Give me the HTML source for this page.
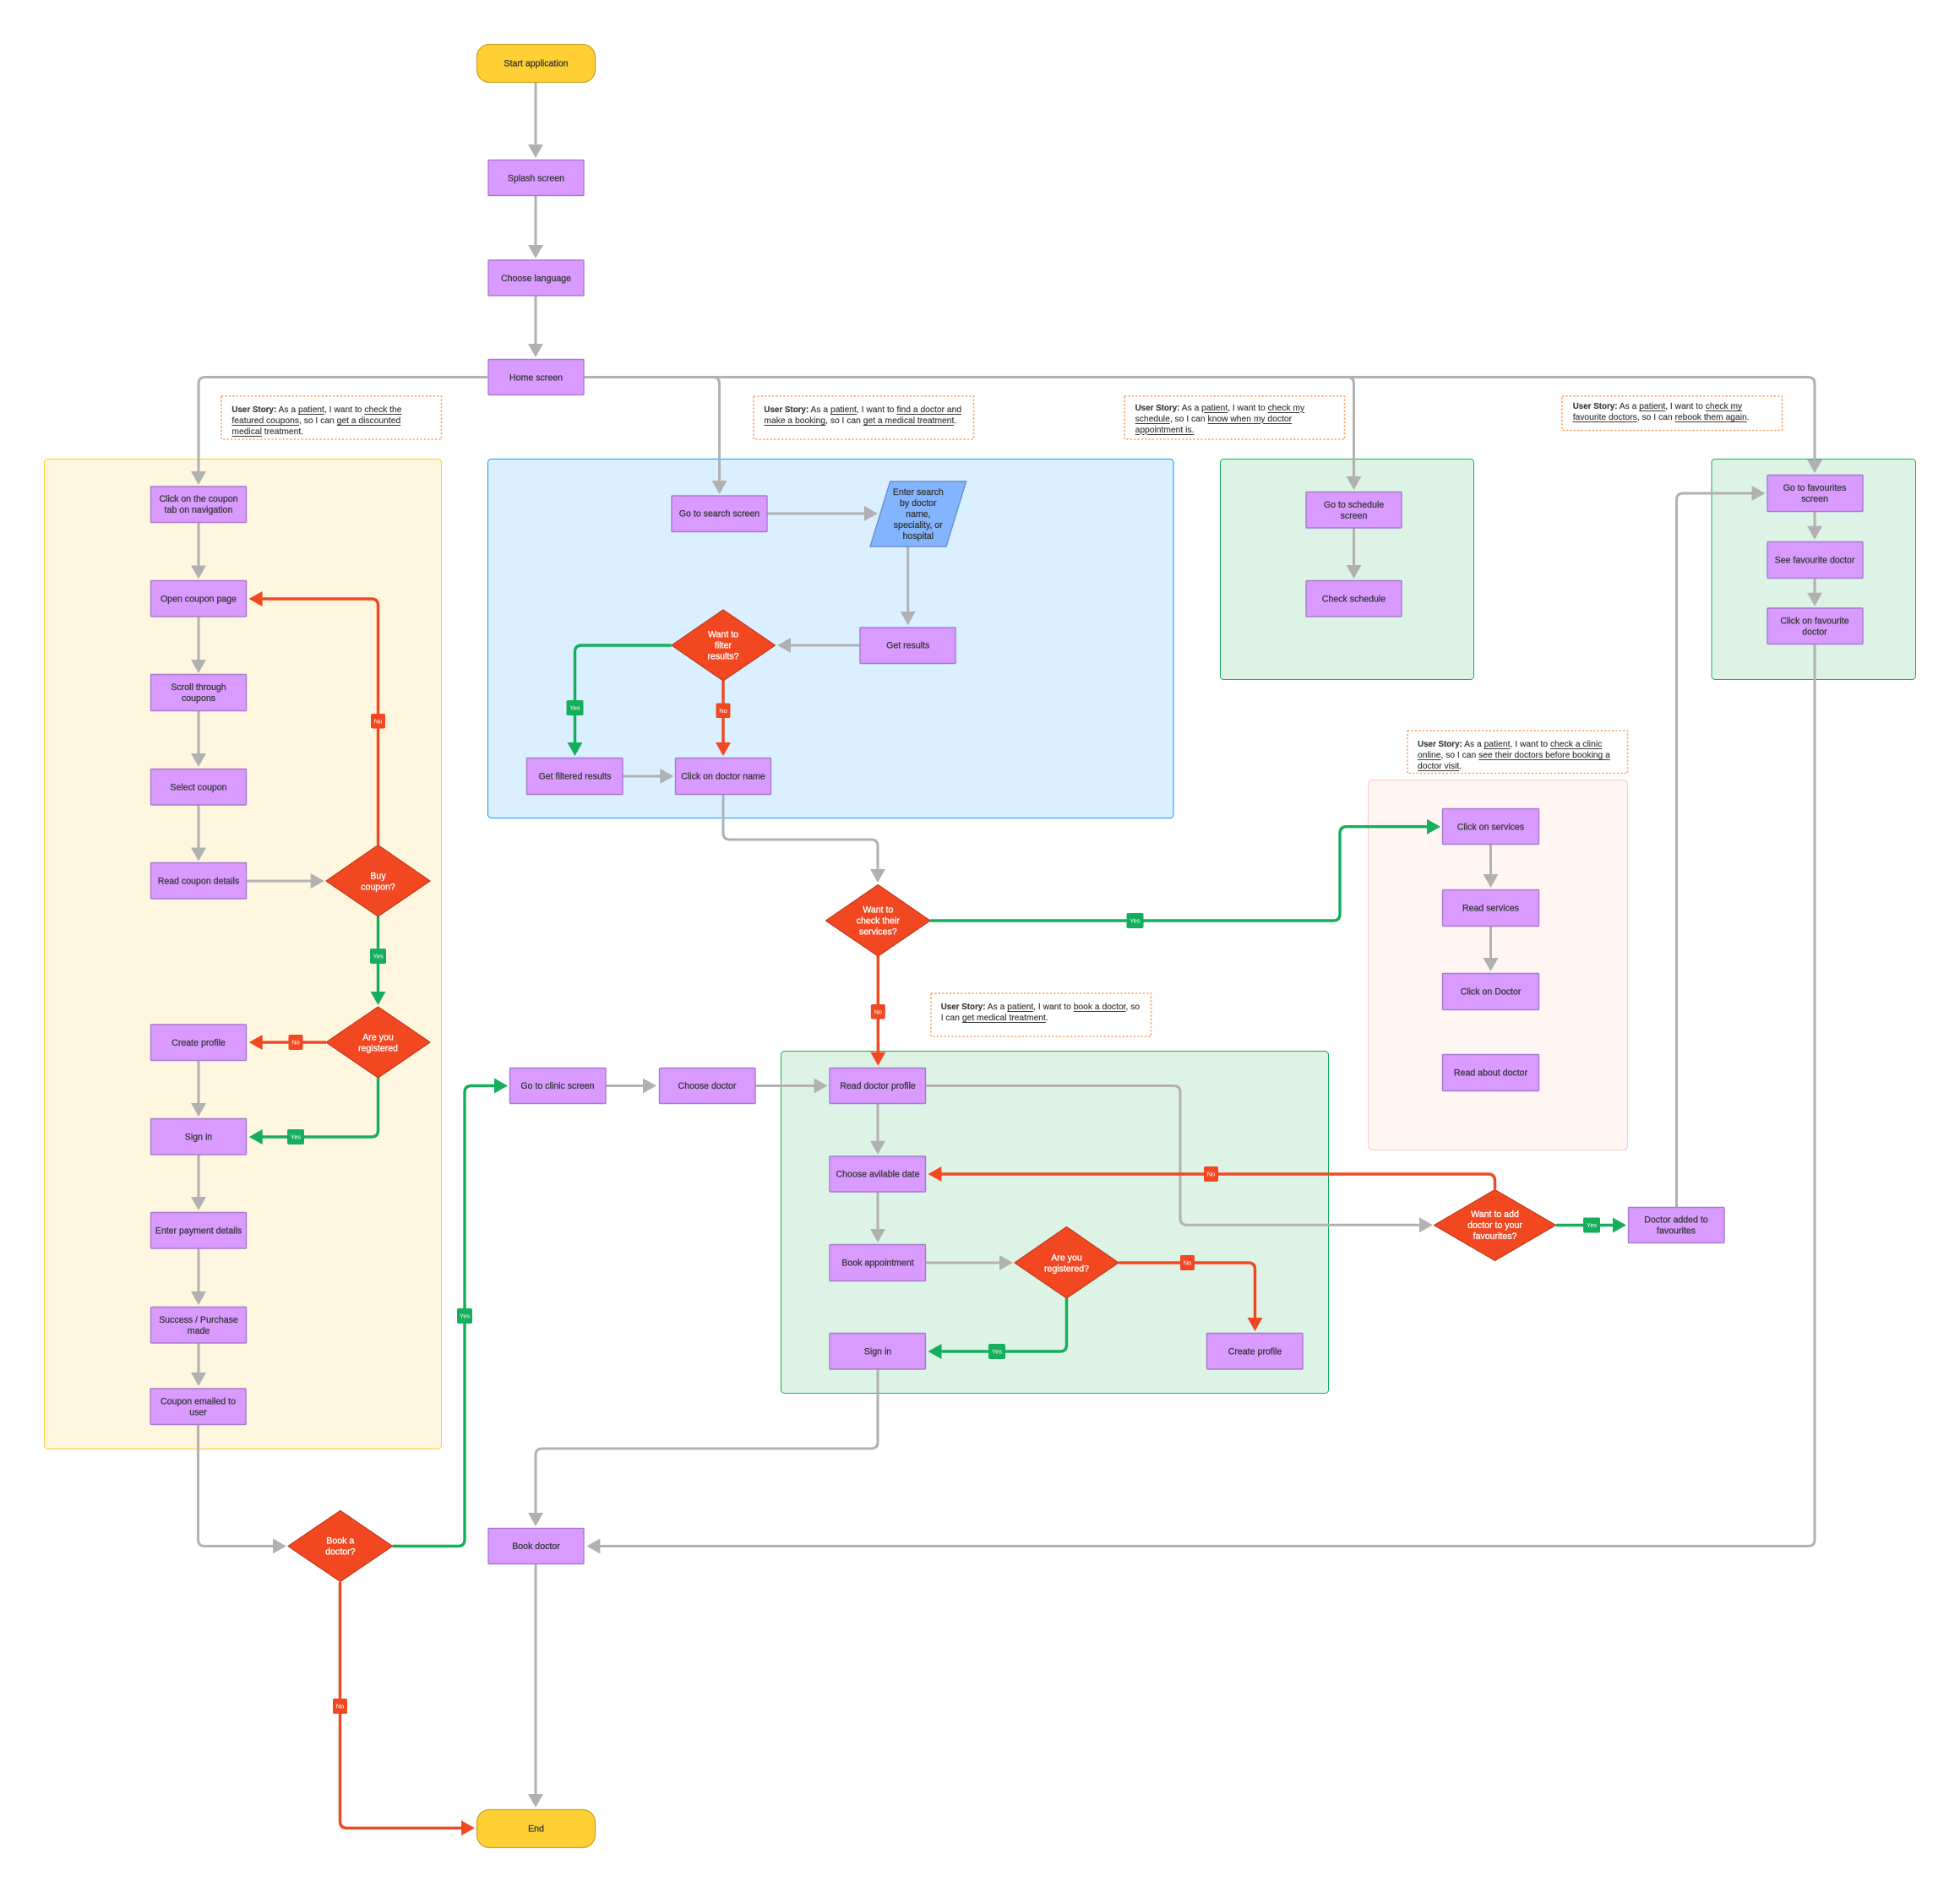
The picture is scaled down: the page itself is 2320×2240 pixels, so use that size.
<!DOCTYPE html>
<html><head><meta charset="utf-8"><style>
html,body{margin:0;padding:0;background:#fff}
#w{position:relative;width:2320px;height:2240px;overflow:hidden}
svg{position:absolute;left:0;top:0}
.n{font:10.6px "Liberation Sans",sans-serif;fill:#3a3a3a;stroke:#3a3a3a;stroke-width:.3;text-anchor:middle}
.d{font:10.6px "Liberation Sans",sans-serif;fill:#fff;stroke:#fff;stroke-width:.3;text-anchor:middle}
.l{font:7.5px "Liberation Sans",sans-serif;fill:#fff;text-anchor:middle}
.b rect{fill:#d99bff;stroke:#a97bcc;stroke-width:1.4;rx:1}
.g{fill:none;stroke:#b1b1b1;stroke-width:3;marker-end:url(#ag)}
.r{fill:none;stroke:#f24822;stroke-width:3.4;marker-end:url(#ar)}
.v{fill:none;stroke:#14ae5c;stroke-width:3.4;marker-end:url(#av)}
.dm{fill:#f24822;stroke:#c23a1b;stroke-width:1.2;stroke-linejoin:round}
.s{fill:#fff;stroke:#ff9e5e;stroke-width:1.6;stroke-dasharray:2.2 2.2}
.t{position:absolute;font:10.3px/13px "Liberation Sans",sans-serif;color:#3a3a3a;white-space:nowrap;-webkit-text-stroke:.15px #3a3a3a}
.t b{font-size:9.8px}
.t u{text-decoration-thickness:1px;text-underline-offset:2px}
marker{overflow:visible}
</style></head><body><div id="w">
<svg width="2320" height="2240" viewBox="0 0 2320 2240" xmlns="http://www.w3.org/2000/svg">
<defs>
<marker id="ag" markerUnits="userSpaceOnUse" markerWidth="18" markerHeight="19" refX="1" refY="8.5" orient="auto"><polygon points="0,-0.5 16,8.5 0,17.5" fill="#b1b1b1"/></marker>
<marker id="ar" markerUnits="userSpaceOnUse" markerWidth="18" markerHeight="19" refX="1" refY="8.5" orient="auto"><polygon points="0,-0.5 16,8.5 0,17.5" fill="#f24822"/></marker>
<marker id="av" markerUnits="userSpaceOnUse" markerWidth="18" markerHeight="19" refX="1" refY="8.5" orient="auto"><polygon points="0,-0.5 16,8.5 0,17.5" fill="#14ae5c"/></marker>
</defs>

<!-- groups -->
<rect x="52.5" y="543.5" width="470" height="1172" rx="4" fill="#fff6df" stroke="#ffcd29" stroke-width="1"/>
<rect x="577.5" y="543.5" width="811.5" height="425" rx="4" fill="#daefff" stroke="#0d99ff" stroke-width="1"/>
<rect x="1444.5" y="543.5" width="300" height="261" rx="4" fill="#dcf3e6" stroke="#14ae5c" stroke-width="1"/>
<rect x="2026" y="543.5" width="241.5" height="261" rx="4" fill="#dcf3e6" stroke="#14ae5c" stroke-width="1"/>
<rect x="1619.5" y="923.5" width="307" height="438" rx="5" fill="#fff5f3" stroke="#ffc7c2" stroke-width="1"/>
<rect x="924.5" y="1244.5" width="648" height="405" rx="4" fill="#dcf3e6" stroke="#14ae5c" stroke-width="1"/>

<!-- stories -->
<rect class="s" x="262" y="469" width="260.5" height="51"/>
<rect class="s" x="892" y="469" width="260.5" height="51"/>
<rect class="s" x="1331" y="469" width="260.5" height="51"/>
<rect class="s" x="1849" y="469" width="260.5" height="40.5"/>
<rect class="s" x="1666" y="865" width="260.5" height="50.5"/>
<rect class="s" x="1102" y="1176" width="260.5" height="51"/>

<!-- gray connectors -->
<path class="g" d="M634 97V172"/>
<path class="g" d="M634 232V291"/>
<path class="g" d="M634 350V408"/>
<path class="g" d="M577 446.5H243q-8 0-8 8V559"/>
<path class="g" d="M691 446.5H843.6q8 0 8 8V570"/>
<path class="g" d="M691 446.5H1594.5q8 0 8 8V565"/>
<path class="g" d="M691 446.5H2140q8 0 8 8V545"/>
<path class="g" d="M235 619V670.5"/>
<path class="g" d="M235 730V782"/>
<path class="g" d="M235 842V893"/>
<path class="g" d="M235 953V1004.5"/>
<path class="g" d="M292 1043H368.7"/>
<path class="g" d="M235 1256V1307"/>
<path class="g" d="M235 1367V1418"/>
<path class="g" d="M235 1478V1530"/>
<path class="g" d="M235 1590V1626"/>
<path class="g" d="M234.5 1687V1822.5q0 8 8 8H324"/>
<path class="g" d="M908.5 608H1024"/>
<path class="g" d="M1074.7 647.5V725"/>
<path class="g" d="M1018 764H935"/>
<path class="g" d="M737.5 919H782.4"/>
<path class="g" d="M856 941V986q0 8 8 8H1031q8 0 8 8V1030"/>
<path class="g" d="M1602.5 625.5V670"/>
<path class="g" d="M2148 606V623.7"/>
<path class="g" d="M2148 684.5V702.7"/>
<path class="g" d="M2148 763V1822.5q0 8-8 8H709.4"/>
<path class="g" d="M1984.5 1429V592q0-8 8-8H2074.5"/>
<path class="g" d="M1764.5 1000V1036"/>
<path class="g" d="M1764.5 1097V1135"/>
<path class="g" d="M717 1285.5H762"/>
<path class="g" d="M894 1285.5H964.6"/>
<path class="g" d="M1039 1307V1351.7"/>
<path class="g" d="M1039 1411.5V1456"/>
<path class="g" d="M1096 1285.5H1389q8 0 8 8V1442.3q0 8 8 8H1681"/>
<path class="g" d="M1096 1495H1184"/>
<path class="g" d="M1039 1621.5V1707q0 8-8 8H642q-8 0-8 8V1792"/>
<path class="g" d="M634 1852V2125"/>

<!-- red connectors -->
<path class="r" d="M447.5 1000V717q0-8-8-8H309.5"/>
<path class="r" d="M386 1234H309.7"/>
<path class="r" d="M856 806V880"/>
<path class="r" d="M1039.3 1132V1246.7"/>
<path class="r" d="M1769.5 1408V1398q0-8-8-8H1113.5"/>
<path class="r" d="M1324 1495H1477.5q8 0 8 8V1561"/>
<path class="r" d="M402.5 1873V2156.3q0 8 8 8H547"/>

<!-- green connectors -->
<path class="v" d="M447.5 1085V1175"/>
<path class="v" d="M447.5 1276V1338q0 8-8 8H309.7"/>
<path class="v" d="M794.6 764H688.5q-8 0-8 8V880"/>
<path class="v" d="M1101 1090H1578q8 0 8-8V986.7q0-8 8-8H1690"/>
<path class="v" d="M1262.5 1537V1592q0 8-8 8H1113.5"/>
<path class="v" d="M1841.7 1450.5H1910"/>
<path class="v" d="M464.6 1830.5H542q8 0 8-8V1293.5q0-8 8-8H586"/>

<!-- terminators -->
<rect x="564.5" y="52.5" width="140" height="45" rx="15" fill="#ffd033" stroke="#c9a52c" stroke-width="1.3"/>
<text class="n" x="634.5" y="78.7">Start application</text>
<rect x="564.5" y="2142.5" width="140" height="45" rx="15" fill="#ffd033" stroke="#c9a52c" stroke-width="1.3"/>
<text class="n" x="634.5" y="2168.7">End</text>

<!-- process boxes -->
<g class="b">
<rect x="578" y="189.5" width="113" height="42"/>
<rect x="578" y="308" width="113" height="42"/>
<rect x="578" y="425.5" width="113" height="42"/>
<rect x="178.5" y="576" width="113" height="42.5"/>
<rect x="178.5" y="687.5" width="113" height="42.5"/>
<rect x="178.5" y="798.5" width="113" height="43"/>
<rect x="178.5" y="910.5" width="113" height="42.5"/>
<rect x="178.5" y="1021.5" width="113" height="42.5"/>
<rect x="178.5" y="1213" width="113" height="42.5"/>
<rect x="178.5" y="1324.5" width="113" height="42.5"/>
<rect x="178.5" y="1435.5" width="113" height="42.5"/>
<rect x="178.5" y="1547.5" width="113" height="42.5"/>
<rect x="178" y="1644" width="113" height="42.5"/>
<rect x="795" y="587" width="113" height="42.5"/>
<rect x="1018" y="743" width="113" height="42.5"/>
<rect x="623.5" y="897.5" width="113.5" height="43"/>
<rect x="799.5" y="897.5" width="113" height="43"/>
<rect x="1546" y="582.5" width="113" height="42.5"/>
<rect x="1546" y="687.5" width="113" height="42.5"/>
<rect x="2092" y="562.5" width="113" height="43"/>
<rect x="2092" y="641.5" width="113" height="43"/>
<rect x="2092" y="720" width="113" height="42.5"/>
<rect x="1707.5" y="957.5" width="114" height="42"/>
<rect x="1707.5" y="1053.5" width="114" height="43"/>
<rect x="1707.5" y="1152.5" width="114" height="43"/>
<rect x="1707.5" y="1248.5" width="114" height="43"/>
<rect x="603.5" y="1264.5" width="113.5" height="42"/>
<rect x="780.5" y="1264.5" width="113.5" height="42"/>
<rect x="982" y="1264.5" width="113.5" height="42"/>
<rect x="982" y="1369" width="113.5" height="42"/>
<rect x="982" y="1473.5" width="113.5" height="43"/>
<rect x="982" y="1578.5" width="113.5" height="42.5"/>
<rect x="1428.5" y="1578.5" width="113.5" height="42.5"/>
<rect x="1927.5" y="1429.5" width="113.5" height="42"/>
<rect x="578" y="1809.5" width="113" height="42"/>
</g>
<polygon points="1053.7,570 1143.6,570 1120,647 1030,647" fill="#83b4ff" stroke="#6a90cc" stroke-width="1.4" stroke-linejoin="round"/>

<!-- diamonds -->
<polygon class="dm" points="447.5,1000.5 509,1043 447.5,1085 386,1043"/>
<polygon class="dm" points="447.5,1192 509,1234 447.5,1276 386,1234"/>
<polygon class="dm" points="856,722 917.5,764 856,806 795,764"/>
<polygon class="dm" points="1039.3,1047.5 1101,1090 1039.3,1132 977.5,1090"/>
<polygon class="dm" points="1262.5,1452.5 1324,1495 1262.5,1537 1201,1495"/>
<polygon class="dm" points="1769.5,1408.5 1841.5,1450.5 1769.5,1492.5 1697.5,1450.5"/>
<polygon class="dm" points="402.8,1788.5 464.5,1830.5 402.8,1872.5 341,1830.5"/>

<!-- box text -->
<text class="n" x="634.5" y="214.3">Splash screen</text>
<text class="n" x="634.5" y="332.8">Choose language</text>
<text class="n" x="634.5" y="450.3">Home screen</text>
<text class="n" x="235" y="594">Click on the coupon</text>
<text class="n" x="235" y="607">tab on navigation</text>
<text class="n" x="235" y="712.5">Open coupon page</text>
<text class="n" x="235" y="817">Scroll through</text>
<text class="n" x="235" y="830">coupons</text>
<text class="n" x="235" y="935.5">Select coupon</text>
<text class="n" x="235" y="1046.7">Read coupon details</text>
<text class="n" x="235" y="1238">Create profile</text>
<text class="n" x="235" y="1349.5">Sign in</text>
<text class="n" x="235" y="1460.5">Enter payment details</text>
<text class="n" x="235" y="1566">Success / Purchase</text>
<text class="n" x="235" y="1579">made</text>
<text class="n" x="234.5" y="1662.5">Coupon emailed to</text>
<text class="n" x="234.5" y="1675.5">user</text>
<text class="n" x="851.5" y="611.7">Go to search screen</text>
<text class="n" x="1074.7" y="767.7">Get results</text>
<text class="n" x="680.5" y="922.7">Get filtered results</text>
<text class="n" x="856" y="922.7">Click on doctor name</text>
<text class="n" x="1602.5" y="601">Go to schedule</text>
<text class="n" x="1602.5" y="614">screen</text>
<text class="n" x="1602.5" y="712.7">Check schedule</text>
<text class="n" x="2148" y="581">Go to favourites</text>
<text class="n" x="2148" y="594">screen</text>
<text class="n" x="2148" y="666.7">See favourite doctor</text>
<text class="n" x="2148" y="738.5">Click on favourite</text>
<text class="n" x="2148" y="751.5">doctor</text>
<text class="n" x="1764.5" y="982.4">Click on services</text>
<text class="n" x="1764.5" y="1078.7">Read services</text>
<text class="n" x="1764.5" y="1177.7">Click on Doctor</text>
<text class="n" x="1764.5" y="1273.7">Read about doctor</text>
<text class="n" x="660" y="1289.2">Go to clinic screen</text>
<text class="n" x="837" y="1289.2">Choose doctor</text>
<text class="n" x="1039" y="1289.2">Read doctor profile</text>
<text class="n" x="1039" y="1393.7">Choose avilable date</text>
<text class="n" x="1039" y="1498.7">Book appointment</text>
<text class="n" x="1039" y="1603.7">Sign in</text>
<text class="n" x="1485.5" y="1603.7">Create profile</text>
<text class="n" x="1984" y="1447.5">Doctor added to</text>
<text class="n" x="1984" y="1460.5">favourites</text>
<text class="n" x="634.5" y="1834.2">Book doctor</text>
<text class="n" x="1086.8" y="586">Enter search</text>
<text class="n" x="1086.8" y="599">by doctor</text>
<text class="n" x="1086.8" y="612">name,</text>
<text class="n" x="1086.8" y="625">speciality, or</text>
<text class="n" x="1086.8" y="638">hospital</text>

<!-- diamond text -->
<text class="d" x="447.5" y="1040.4">Buy</text>
<text class="d" x="447.5" y="1053.4">coupon?</text>
<text class="d" x="447.5" y="1231.4">Are you</text>
<text class="d" x="447.5" y="1244.4">registered</text>
<text class="d" x="856" y="754.7">Want to</text>
<text class="d" x="856" y="767.7">filter</text>
<text class="d" x="856" y="780.7">results?</text>
<text class="d" x="1039.3" y="1080.7">Want to</text>
<text class="d" x="1039.3" y="1093.7">check their</text>
<text class="d" x="1039.3" y="1106.7">services?</text>
<text class="d" x="1262.5" y="1492.5">Are you</text>
<text class="d" x="1262.5" y="1505.5">registered?</text>
<text class="d" x="1769.5" y="1441">Want to add</text>
<text class="d" x="1769.5" y="1454">doctor to your</text>
<text class="d" x="1769.5" y="1467">favourites?</text>
<text class="d" x="402.8" y="1827.5">Book a</text>
<text class="d" x="402.8" y="1840.5">doctor?</text>

<!-- labels -->
<rect x="439" y="845" width="17" height="17.5" rx="2" fill="#f24822"/><text class="l" x="447.5" y="856.5">No</text>
<rect x="341.5" y="1225" width="17" height="18" rx="2" fill="#f24822"/><text class="l" x="350" y="1236.7">No</text>
<rect x="847.5" y="832.5" width="17" height="17.5" rx="2" fill="#f24822"/><text class="l" x="856" y="844">No</text>
<rect x="1030.8" y="1189" width="17" height="17.5" rx="2" fill="#f24822"/><text class="l" x="1039.3" y="1200.5">No</text>
<rect x="1425" y="1381" width="17" height="18" rx="2" fill="#f24822"/><text class="l" x="1433.5" y="1392.7">No</text>
<rect x="1397" y="1486" width="17" height="18" rx="2" fill="#f24822"/><text class="l" x="1405.5" y="1497.7">No</text>
<rect x="394" y="2011" width="17" height="18" rx="2" fill="#f24822"/><text class="l" x="402.5" y="2022.7">No</text>
<rect x="438" y="1123" width="19" height="18" rx="2" fill="#14ae5c"/><text class="l" x="447.5" y="1134.7">Yes</text>
<rect x="340" y="1337" width="20" height="18" rx="2" fill="#14ae5c"/><text class="l" x="350" y="1348.7">Yes</text>
<rect x="670.5" y="829" width="20" height="18" rx="2" fill="#14ae5c"/><text class="l" x="680.5" y="840.7">Yes</text>
<rect x="1333.5" y="1081" width="20" height="18" rx="2" fill="#14ae5c"/><text class="l" x="1343.5" y="1092.7">Yes</text>
<rect x="1170" y="1591" width="20" height="18" rx="2" fill="#14ae5c"/><text class="l" x="1180" y="1602.7">Yes</text>
<rect x="1874" y="1441.5" width="20" height="18" rx="2" fill="#14ae5c"/><text class="l" x="1884" y="1453.2">Yes</text>
<rect x="541" y="1549" width="18" height="18" rx="2" fill="#14ae5c"/><text class="l" x="550" y="1560.7">Yes</text>
</svg>

<div class="t" style="left:274.4px;top:479px"><b>User Story:</b> As a <u>patient</u>, I want to <u>check the</u><br><u>featured coupons</u>, so I can <u>get a discounted</u><br><u>medical</u> treatment.</div>
<div class="t" style="left:904.4px;top:479px"><b>User Story:</b> As a <u>patient</u>, I want to <u>find a doctor and</u><br><u>make a booking</u>, so I can <u>get a medical treatment</u>.</div>
<div class="t" style="left:1343.6px;top:476.5px"><b>User Story:</b> As a <u>patient</u>, I want to <u>check my</u><br><u>schedule</u>, so I can <u>know when my doctor</u><br><u>appointment is.</u></div>
<div class="t" style="left:1861.7px;top:475px"><b>User Story:</b> As a <u>patient</u>, I want to <u>check my</u><br><u>favourite doctors</u>, so I can <u>rebook them again</u>.</div>
<div class="t" style="left:1678px;top:875px"><b>User Story:</b> As a <u>patient</u>, I want to <u>check a clinic</u><br><u>online</u>, so I can <u>see their doctors before booking a</u><br><u>doctor visit</u>.</div>
<div class="t" style="left:1113.7px;top:1186px"><b>User Story:</b> As a <u>patient</u>, I want to <u>book a doctor</u>, so<br>I can <u>get medical treatment</u>.</div>
</div></body></html>
